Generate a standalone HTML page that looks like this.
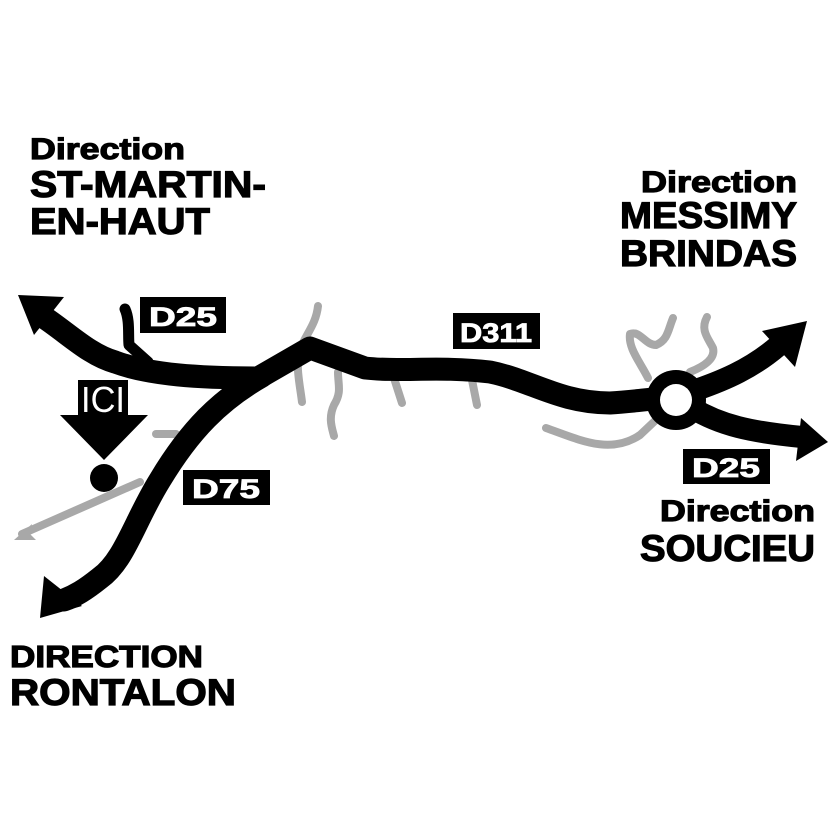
<!DOCTYPE html>
<html><head><meta charset="utf-8"><style>
html,body{margin:0;padding:0;background:#fff;}
svg{display:block;}
text{font-family:"Liberation Sans",sans-serif;font-weight:bold;}
.b{stroke:#000;stroke-width:1.2;}
.w{stroke:#fff;stroke-width:0.8;}
</style></head><body>
<svg width="828" height="827" viewBox="0 0 828 827" xmlns="http://www.w3.org/2000/svg">
<rect width="828" height="827" fill="#fff"/>
<g fill="none" stroke="#a8a8a8" stroke-width="8" stroke-linecap="round" stroke-linejoin="round">
<path d="M318 306 C316 325 305 335 300 350 C295 365 300 385 302 402"/>
<path d="M338 372 C338 385 342 392 334 405 C328 418 332 428 334 436"/>
<path d="M393 375 L402 403"/>
<path d="M470 370 L477 405"/>
<path d="M156 434 L176 434"/>
<path d="M140 482 L22 534"/>
<path d="M546 428 C580 440 610 455 640 435 L658 418"/>
<path d="M673 318 C668 330 668 340 656 345 C645 345 640 330 630 334 C628 348 640 362 648 378"/>
<path d="M707 317 C700 330 708 338 713 348 C716 360 700 368 690 372"/>
</g>
<polygon points="14,540 32,524 30,534 36,540" fill="#a8a8a8"/>
<g fill="none" stroke="#000" stroke-linecap="round" stroke-linejoin="round">
<path d="M45 318 C70 335 90 355 115 362 C150 375 200 378 258 378 L310 348 L365 368 C400 372 440 366 490 372 C530 380 560 403 610 403 C640 401 655 398 672 398" stroke-width="23"/>
<path d="M125 309 C130 320 128 335 129 345 L148 362" stroke-width="11"/>
<path d="M262 376 C220 400 190 430 160 480 C135 520 125 560 100 578 C85 590 75 596 64 600" stroke-width="23"/>
<path d="M690 392 C720 382 750 370 778 346" stroke-width="22"/>
<path d="M692 408 C720 425 750 432 802 437" stroke-width="22"/>
</g>
<polygon points="18,295 64,297 34,335" fill="#000"/>
<polygon points="40,618 44,576 82,606" fill="#000"/>
<polygon points="807,321 762,331 795,367" fill="#000"/>
<polygon points="828,442 796,461 801,418" fill="#000"/>
<circle cx="676" cy="400" r="30" fill="#000"/>
<circle cx="676" cy="400" r="16" fill="#fff"/>
<rect x="78" y="380" width="50" height="36" fill="#000"/>
<text x="103" y="412" font-size="36" fill="#fff" text-anchor="middle" style="font-weight:normal" textLength="44" lengthAdjust="spacingAndGlyphs">ICI</text>
<polygon points="60,415 148,415 104,460" fill="#000"/>
<circle cx="104" cy="478" r="14" fill="#000"/>
<rect x="140" y="297" width="86" height="36" fill="#000"/>
<text class="w" x="183" y="326" font-size="27" fill="#fff" text-anchor="middle" textLength="68" lengthAdjust="spacingAndGlyphs">D25</text>
<rect x="453" y="313" width="87" height="36" fill="#000"/>
<text class="w" x="496" y="342" font-size="27" fill="#fff" text-anchor="middle" textLength="72" lengthAdjust="spacingAndGlyphs">D311</text>
<rect x="183" y="470" width="87" height="35" fill="#000"/>
<text class="w" x="226" y="498" font-size="27" fill="#fff" text-anchor="middle" textLength="68" lengthAdjust="spacingAndGlyphs">D75</text>
<rect x="683" y="449" width="87" height="35" fill="#000"/>
<text class="w" x="726" y="477" font-size="27" fill="#fff" text-anchor="middle" textLength="68" lengthAdjust="spacingAndGlyphs">D25</text>
<text class="b" x="30" y="159" font-size="30" textLength="155" lengthAdjust="spacingAndGlyphs">Direction</text>
<text class="b" x="30" y="197" font-size="37" textLength="236" lengthAdjust="spacingAndGlyphs">ST-MARTIN-</text>
<text class="b" x="30" y="234" font-size="37" textLength="180" lengthAdjust="spacingAndGlyphs">EN-HAUT</text>
<text class="b" x="641" y="192" font-size="30" textLength="156" lengthAdjust="spacingAndGlyphs">Direction</text>
<text class="b" x="620" y="228" font-size="37" textLength="177" lengthAdjust="spacingAndGlyphs">MESSIMY</text>
<text class="b" x="620" y="266" font-size="37" textLength="177" lengthAdjust="spacingAndGlyphs">BRINDAS</text>
<text class="b" x="660" y="521" font-size="30" textLength="155" lengthAdjust="spacingAndGlyphs">Direction</text>
<text class="b" x="640" y="561" font-size="37" textLength="175" lengthAdjust="spacingAndGlyphs">SOUCIEU</text>
<text class="b" x="10" y="667" font-size="31" textLength="193" lengthAdjust="spacingAndGlyphs">DIRECTION</text>
<text class="b" x="10" y="705" font-size="37" textLength="226" lengthAdjust="spacingAndGlyphs">RONTALON</text>
</svg>
</body></html>
